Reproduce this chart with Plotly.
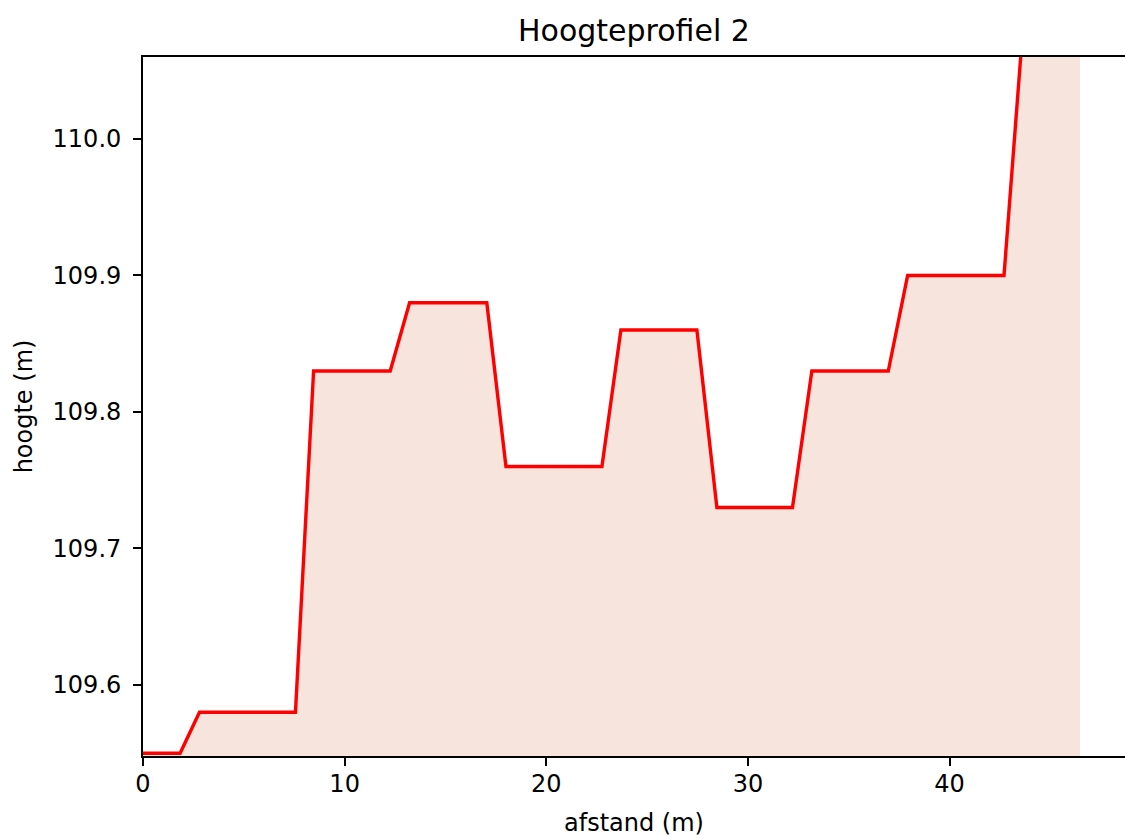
import plotly.graph_objects as go

# distance (m) and height (m)
afstand = [0.0, 1.84, 2.80, 7.56, 8.46, 12.26, 13.22, 17.05, 18.00, 22.76, 23.70,
           27.47, 28.46, 32.21, 33.17, 36.96, 37.92, 42.70, 43.63, 46.47]
hoogte = [109.55, 109.55, 109.58, 109.58, 109.83, 109.83, 109.88, 109.88, 109.76, 109.76, 109.86,
          109.86, 109.73, 109.73, 109.83, 109.83, 109.90, 109.90, 110.08, 110.08]

x_ticks = [0, 10, 20, 30, 40]
y_ticks = [109.6, 109.7, 109.8, 109.9, 110.0]

FONT = "DejaVu Sans"

fig = go.Figure()
fig.add_trace(go.Scatter(
    x=afstand, y=hoogte, mode="lines", line=dict(width=0),
    fill="tozeroy", fillcolor="#f6e4dd", hoverinfo="skip", showlegend=False))
fig.add_trace(go.Scatter(
    x=afstand, y=hoogte, mode="lines", line=dict(color="#ff0000", width=3.4),
    showlegend=False))

fig.update_layout(
    width=1125, height=838,
    margin=dict(l=143, r=0, t=57, b=82),
    paper_bgcolor="white", plot_bgcolor="white",
    font=dict(family=FONT, size=24, color="#000000"),
    title=dict(text="Hoogteprofiel 2", x=0.5635, xanchor="center",
               y=1 - 30 / 838, yanchor="middle",
               font=dict(family=FONT, size=30, color="#000000")),
)
fig.update_xaxes(
    range=[0, 48.70], tickvals=x_ticks, ticktext=[str(v) for v in x_ticks],
    showgrid=False, zeroline=False, showline=True, linecolor="#000000", linewidth=1.8,
    mirror=True, ticks="outside", ticklen=8, tickwidth=1.8, tickcolor="#000000",
    ticklabelstandoff=-3,
    title=dict(text="afstand (m)", standoff=17, font=dict(family=FONT, size=24)),
)
fig.update_yaxes(
    range=[109.548, 110.06], tickvals=y_ticks, ticktext=[f"{v:.1f}" for v in y_ticks],
    showgrid=False, zeroline=False, showline=True, linecolor="#000000", linewidth=1.8,
    mirror=False, ticks="outside", ticklen=8, tickwidth=1.8, tickcolor="#000000",
    ticklabelstandoff=7,
    title=dict(text="hoogte (m)", standoff=13, font=dict(family=FONT, size=24)),
)

fig.write_html("out.html", config={"displayModeBar": False},
               post_script="document.body.style.margin='0';")
